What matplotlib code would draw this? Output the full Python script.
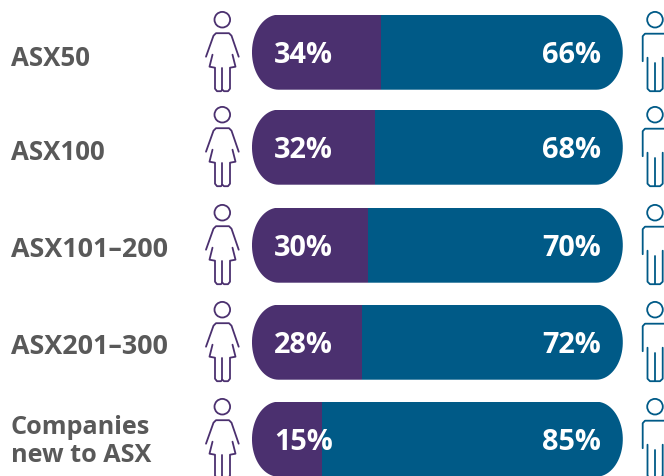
import numpy as np
import matplotlib
matplotlib.use('Agg')
import matplotlib.pyplot as plt
from matplotlib.patches import PathPatch, Circle
from matplotlib.path import Path

labels = ['ASX50', 'ASX100', 'ASX101–200', 'ASX201–300', 'Companies\nnew to ASX']
women = [34, 32, 30, 28, 15]
men = [66, 68, 70, 72, 85]

row_top = [15.7, 110.7, 208.7, 305.7, 402.7]
label_y = [59, 152.5, 250, 347, 441.5]
label_size = [18.6, 18.6, 19.4, 19.4, 18.2]
bar_h = 75
purple = '#4b306f'
blue = '#005a87'
grey = '#595959'

plt.rcParams['font.family'] = ['Open Sans', 'DejaVu Sans']

fig = plt.figure(figsize=(6.64, 4.77), dpi=100)

# value axis: 0% sits at x=276px, one percent is 3.08px
ax = fig.add_axes([0, 0, 1, 1])
ax.set_xlim(-276 / 3.08, (664 - 276) / 3.08)
ax.set_ylim(477, 0)
ax.axis('off')

# pixel axis on top for the icons and text
px = fig.add_axes([0, 0, 1, 1])
px.set_xlim(0, 664)
px.set_ylim(477, 0)
px.axis('off')
px.patch.set_alpha(0)


def pill(y0, h, x0=-7.8, x1=112.6, rx=8.6):
    t = np.linspace(-np.pi / 2, np.pi / 2, 40)
    xr = x1 - rx + rx * np.cos(t)
    yr = y0 + h / 2 + h / 2 * np.sin(t)
    xl = x0 + rx - rx * np.cos(t[::-1])
    yl = y0 + h / 2 + h / 2 * np.sin(t[::-1])
    xs = np.r_[xr, xl, xr[0]]
    ys = np.r_[yr, yl, yr[0]]
    return Path(np.column_stack([xs, ys]))


def stroke(pts, top, color):
    xy = np.array(pts, dtype=float)
    xy[:, 1] += top - 15
    px.plot(xy[:, 0], xy[:, 1], color=color, lw=1.3, solid_capstyle='round', solid_joinstyle='round')


def woman(top, color):
    px.add_patch(Circle((222.3, top + 5), 7.8, fc='none', ec=color, lw=1.3))
    stroke([(206, 57), (213.5, 36), (216, 33.5), (229, 33.5), (231.5, 36), (238.7, 57)], top, color)
    stroke([(212.5, 55), (209.5, 67), (215, 68), (215, 89), (217, 91.5), (221, 91.5), (222.3, 90)], top, color)
    stroke([(232.5, 55), (235.5, 67), (230, 68), (230, 89), (228, 91.5), (224, 91.5), (222.3, 90)], top, color)
    stroke([(222.3, 68), (222.3, 90)], top, color)


def man(top, color):
    px.add_patch(Circle((655, top + 5), 7.8, fc='none', ec=color, lw=1.3))
    stroke([(642.7, 61.5), (642.7, 36.5), (645, 34), (670, 34)], top, color)
    stroke([(647.5, 58), (647.5, 89), (650, 91.5), (660, 91.5), (662.7, 89), (662.7, 58)], top, color)
    stroke([(655, 63), (655, 91.5)], top, color)


for i in range(len(labels)):
    top = row_top[i]
    clip = PathPatch(pill(top, bar_h), fc='none', ec='none', transform=ax.transData)
    ax.add_patch(clip)
    b1 = ax.barh(top + bar_h / 2, women[i] + 20, left=-20, height=bar_h, color=purple, lw=0)
    b2 = ax.barh(top + bar_h / 2, men[i] + 30, left=women[i], height=bar_h, color=blue, lw=0)
    b1[0].set_clip_path(clip)
    b2[0].set_clip_path(clip)

    px.text(274, top + 40, f'{women[i]}%', color='white', fontsize=20.8, fontweight='bold', ha='left', va='center')
    px.text(601, top + 40, f'{men[i]}%', color='white', fontsize=20.8, fontweight='bold', ha='right', va='center')
    px.text(11, label_y[i], labels[i], color=grey, fontsize=label_size[i], fontweight='bold', ha='left', va='center', linespacing=1.13)

    woman(top, purple)
    man(top, blue)

fig.savefig('out.png', dpi=100)
